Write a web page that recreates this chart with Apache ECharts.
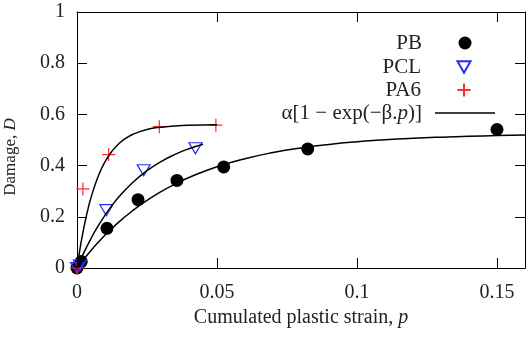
<!DOCTYPE html>
<html>
<head>
<meta charset="utf-8">
<script src="https://cdn.jsdelivr.net/npm/echarts@6/dist/echarts.min.js"></script>
<style>html,body{margin:0;padding:0;background:#fff}#c{width:530px;height:340px}</style>
</head>
<body>
<div id="c"></div>
<script>
// Measured points
const pbP  = [0, 0.0015, 0.0107, 0.0218, 0.0357, 0.0524, 0.0824, 0.150];
const pbD  = [0, 0.025, 0.155, 0.267, 0.342, 0.395, 0.465, 0.541];
const pclP = [0, 0.001, 0.0105, 0.0238, 0.0423];
const pclD = [0, 0.01, 0.226, 0.382, 0.468];
const pa6P = [0, 0.0021, 0.0113, 0.0294, 0.0496];
const pa6D = [0, 0.309, 0.443, 0.552, 0.558];

// Fitted curves
const fitPbP  = [0, 0.0025, 0.005, 0.0075, 0.01, 0.015, 0.02, 0.025, 0.03, 0.035, 0.04, 0.05, 0.06, 0.07, 0.08, 0.09, 0.10, 0.11, 0.12, 0.13, 0.14, 0.15, 0.16];
const fitPbD  = [0, 0.0355, 0.0686, 0.0994, 0.1282, 0.1801, 0.2251, 0.2643, 0.2984, 0.3280, 0.3537, 0.3955, 0.4271, 0.4510, 0.4691, 0.4827, 0.4931, 0.5009, 0.5068, 0.5112, 0.5146, 0.5171, 0.5191];
const fitPclP = [0, 0.0025, 0.005, 0.0075, 0.01, 0.0125, 0.015, 0.02, 0.025, 0.03, 0.035, 0.04, 0.045];
const fitPclD = [0, 0.0610, 0.1152, 0.1634, 0.2063, 0.2444, 0.2782, 0.3352, 0.3802, 0.4157, 0.4439, 0.4661, 0.4837];
const fitPa6P = [0, 0.001, 0.002, 0.003, 0.004, 0.005, 0.0075, 0.01, 0.0125, 0.015, 0.0175, 0.02, 0.025, 0.03, 0.035, 0.04, 0.05];
const fitPa6D = [0, 0.0707, 0.1325, 0.1865, 0.2337, 0.2749, 0.3566, 0.4148, 0.4564, 0.4861, 0.5073, 0.5224, 0.5408, 0.5502, 0.5550, 0.5575, 0.5594];

const yTicks = ['0', '0.2', '0.4', '0.6', '0.8', '1'];
const xTicks = ['0', '0.05', '0.1', '0.15'];

const FIT = 'α[1 − exp(−β.p)]';
const zip = (a, b) => a.map((v, i) => [v, b[i]]);
const font = "'Liberation Serif', 'Times New Roman', serif";
const txt = '#222';
const FS = 20;
const TRI = 'path://M0 0L10 0L5 8.66Z';
const PLUS = 'path://M0 5H10M5 0V10';

const chart = echarts.init(document.getElementById('c'), null, {renderer: 'canvas'});

const axisCommon = {
  axisLine: {show: true, onZero: false, lineStyle: {color: '#000', width: 1}},
  axisTick: {show: true, inside: true, length: 10, lineStyle: {color: '#000', width: 1}},
  splitLine: {show: false}
};

function legendAt(name, top, isLine) {
  const w = isLine ? 60 : 13;
  return {
    data: [isLine ? {name: name, icon: 'rect'} : name],
    orient: 'vertical', right: isLine ? 30 : 53.5, top: top, align: 'right',
    itemWidth: w, itemHeight: isLine ? 1.6 : 13, selectedMode: false,
    formatter: n => n === FIT ? 'α[1 − exp(−β.{i|p})]' : n,
    textStyle: {fontFamily: font, fontSize: 21, color: txt, padding: [0, isLine ? 8 : 31.5, 0, 0], lineHeight: 22,
      rich: {i: {fontFamily: font, fontSize: 21, fontStyle: 'italic', color: txt}}}
  };
}

chart.setOption({
  animation: false,
  grid: {left: 77, right: 5, top: 12, bottom: 72, containLabel: false, outerBoundsMode: 'none'},
  legend: [legendAt('PB', 27), legendAt('PCL', 51), legendAt('PA6', 74), legendAt(FIT, 97, true)],
  xAxis: [
    Object.assign({type: 'value', position: 'bottom', min: 0, max: 0.16, interval: 0.05,
      name: 'Cumulated plastic strain, {i|p}', nameLocation: 'middle', nameGap: 35,
      nameTextStyle: {fontFamily: font, fontSize: FS, color: txt,
        rich: {i: {fontFamily: font, fontSize: FS, fontStyle: 'italic', color: txt}}},
      axisLabel: {fontFamily: font, fontSize: FS, color: txt, margin: 15,
        formatter: v => { const i = Math.round(v / 0.05); return xTicks[i] !== undefined ? xTicks[i] : ''; }}
    }, axisCommon),
    Object.assign({type: 'value', position: 'top', min: 0, max: 0.16, interval: 0.05,
      axisLabel: {show: false}}, axisCommon)
  ],
  yAxis: [
    Object.assign({type: 'value', position: 'left', min: 0, max: 1, interval: 0.2,
      name: 'Damage, {i|D}', nameLocation: 'middle', nameGap: 58,
      nameTextStyle: {fontFamily: font, fontSize: 17, color: txt, padding: [0, 34, 0, 0],
        rich: {i: {fontFamily: font, fontSize: 17, fontStyle: 'italic', color: txt}}},
      axisLabel: {fontFamily: font, fontSize: FS, color: txt, margin: 12,
        formatter: v => yTicks[Math.round(v / 0.2)]}
    }, axisCommon),
    Object.assign({type: 'value', position: 'right', min: 0, max: 1, interval: 0.2,
      axisLabel: {show: false}}, axisCommon)
  ],
  series: [
    {name: 'PB', type: 'scatter', data: zip(pbP, pbD), symbol: 'circle', symbolSize: 13,
      itemStyle: {color: '#000', opacity: 1}, z: 3},
    {name: 'PCL', type: 'scatter', data: zip(pclP, pclD), symbol: TRI, symbolSize: [13, 11],
      itemStyle: {color: 'rgba(0,0,0,0)', borderColor: '#2a2aff', borderWidth: 1.2, opacity: 1}, z: 3},
    {name: 'PA6', type: 'scatter', data: zip(pa6P, pa6D), symbol: PLUS, symbolSize: 13,
      itemStyle: {color: 'rgba(0,0,0,0)', borderColor: '#ff2a2a', borderWidth: 1.2, opacity: 1}, z: 3},
    {name: FIT, type: 'line', data: zip(fitPbP, fitPbD), symbol: 'none', smooth: true,
      lineStyle: {color: '#000', width: 1.5}, itemStyle: {color: '#000'}, z: 4},
    {name: FIT, type: 'line', data: zip(fitPclP, fitPclD), symbol: 'none', smooth: true,
      lineStyle: {color: '#000', width: 1.5}, itemStyle: {color: '#000'}, z: 4},
    {name: FIT, type: 'line', data: zip(fitPa6P, fitPa6D), symbol: 'none', smooth: true,
      lineStyle: {color: '#000', width: 1.5}, itemStyle: {color: '#000'}, z: 4}
  ]
});
</script>
</body>
</html>
